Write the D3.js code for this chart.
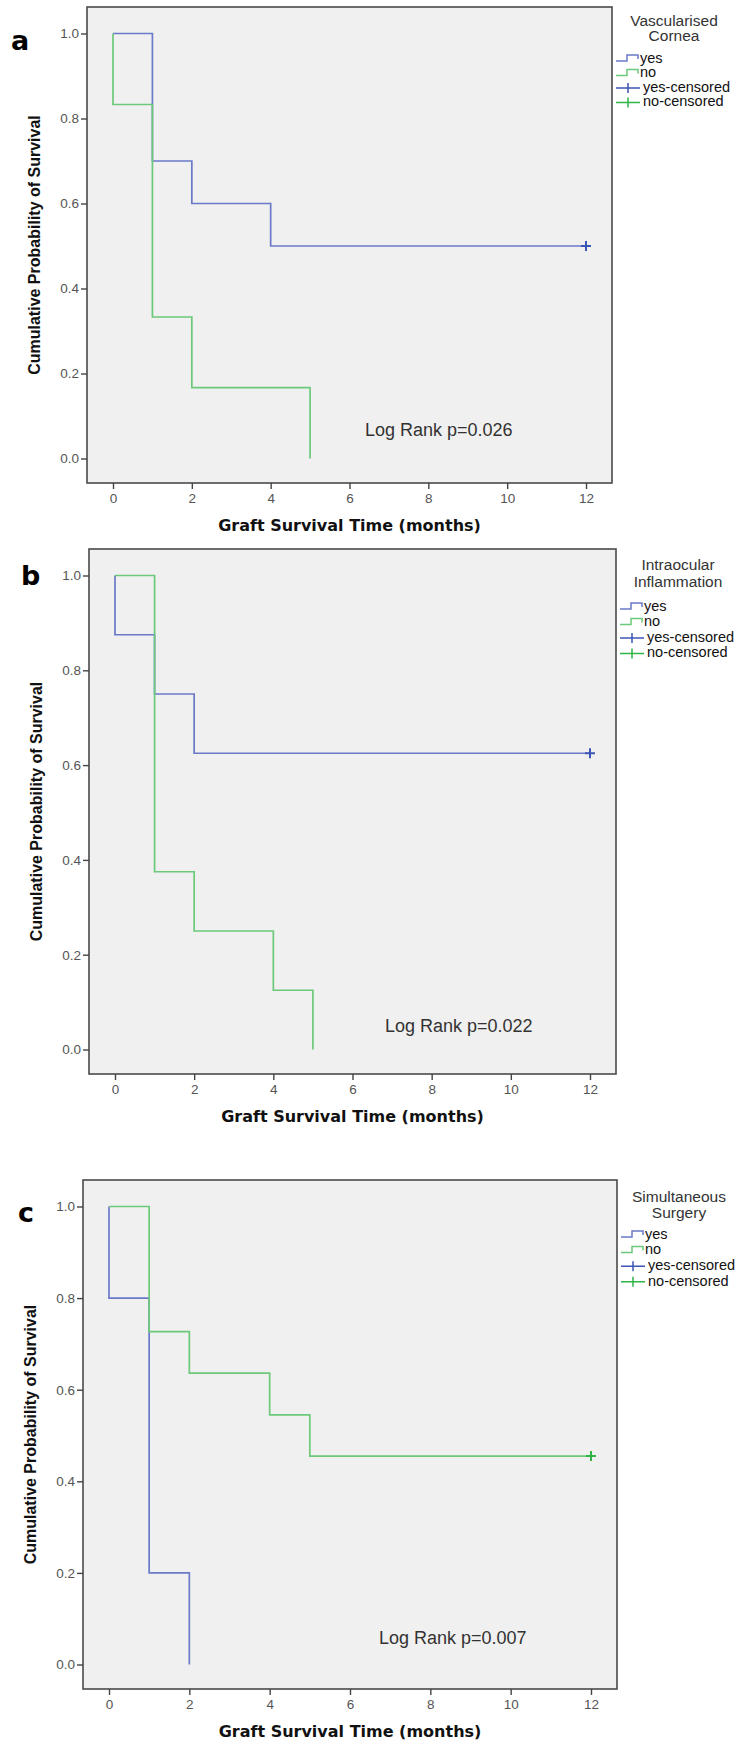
<!DOCTYPE html>
<html>
<head>
<meta charset="utf-8">
<script src="https://cdn.jsdelivr.net/npm/d3@7"></script>
<style>
  body { margin: 0; background: #fff; }
  svg { display: block; }
</style>
</head>
<body>
<svg id="km" width="739" height="1746"></svg>
<script>
// ---- data ----
const panelLabels = ["a", "b", "c"];
const groupTitles = [["Vascularised", "Cornea"], ["Intraocular", "Inflammation"], ["Simultaneous", "Surgery"]];
const pValues = ["0.026", "0.022", "0.007"];
const legendLabels = ["yes", "no", "yes-censored", "no-censored"];
const xTicks = [0, 2, 4, 6, 8, 10, 12];
const yTicks = [0.0, 0.2, 0.4, 0.6, 0.8, 1.0];

// a: vascularised cornea
const aYesTime = [0, 1, 2, 4, 12];
const aYesSurv = [1.0, 0.7, 0.6, 0.5, 0.5];
const aYesCens = [12];
const aNoTime = [0, 0, 1, 2, 5];
const aNoSurv = [1.0, 0.833, 0.333, 0.167, 0.0];
const aNoCens = [];

// b: intraocular inflammation
const bYesTime = [0, 0, 1, 2, 12];
const bYesSurv = [1.0, 0.875, 0.75, 0.625, 0.625];
const bYesCens = [12];
const bNoTime = [0, 1, 2, 4, 5];
const bNoSurv = [1.0, 0.375, 0.25, 0.125, 0.0];
const bNoCens = [];

// c: simultaneous surgery
const cYesTime = [0, 0, 1, 2];
const cYesSurv = [1.0, 0.8, 0.2, 0.0];
const cYesCens = [];
const cNoTime = [0, 1, 2, 4, 5, 12];
const cNoSurv = [1.0, 0.727, 0.636, 0.545, 0.455, 0.455];
const cNoCens = [12];

const series = [
  {yes: [aYesTime, aYesSurv, aYesCens], no: [aNoTime, aNoSurv, aNoCens]},
  {yes: [bYesTime, bYesSurv, bYesCens], no: [bNoTime, bNoSurv, bNoCens]},
  {yes: [cYesTime, cYesSurv, cYesCens], no: [cNoTime, cNoSurv, cNoCens]}
];

// ---- layout ----
const layouts = [
  {left: 87, right: 612, top: 7, bottom: 483, titleY: [22, 37], itemY: 59, itemStep: 14.5, legX: 616, lab: [11, 50], rank: [365, 436]},
  {left: 89, right: 616, top: 549, bottom: 1074, titleY: [566, 583], itemY: 607, itemStep: 15.5, legX: 620, lab: [21, 585], rank: [385, 1032]},
  {left: 83, right: 617, top: 1180, bottom: 1689, titleY: [1198, 1214], itemY: 1235, itemStep: 15.6, legX: 621, lab: [18, 1222], rank: [379, 1644]}
];

const blue = "#6a79c8", green = "#6cc97a";
const blueDark = "#3d55b5", greenDark = "#2fb548";
const sans = "'Liberation Sans', Arial, sans-serif";

const svg = d3.select("#km");

layouts.forEach((L, i) => {
  const g = svg.append("g");

  const x = d3.scaleLinear().domain([0, 12]).range([L.left + 26, L.right - 26]);
  const y = d3.scaleLinear().domain([0, 1]).range([L.bottom - 24.5, L.top + 26.5]);

  g.append("rect")
    .attr("x", L.left).attr("y", L.top)
    .attr("width", L.right - L.left).attr("height", L.bottom - L.top)
    .attr("fill", "#f0f0f0")
    .attr("stroke", "#4a4a4a")
    .attr("stroke-width", 1.6);

  // axes
  const yAxis = g.append("g")
    .attr("transform", `translate(${L.left},0)`)
    .call(d3.axisLeft(y).tickValues(yTicks).tickFormat(d3.format(".1f")).tickSize(6).tickPadding(2));
  const xAxis = g.append("g")
    .attr("transform", `translate(0,${L.bottom})`)
    .call(d3.axisBottom(x).tickValues(xTicks).tickSize(6).tickPadding(4));
  [yAxis, xAxis].forEach(ax => {
    ax.select(".domain").remove();
    ax.selectAll(".tick line").attr("stroke", "#444").attr("stroke-width", 1.4);
    ax.selectAll(".tick text")
      .attr("fill", "#555")
      .style("font-family", sans)
      .style("font-size", "13.5px");
  });

  // step curves
  const line = d3.line()
    .x(d => x(d[0]))
    .y(d => y(d[1]))
    .curve(d3.curveStepAfter);

  [["yes", blue, blueDark], ["no", green, greenDark]].forEach(([key, col, dark]) => {
    const [t, s, cens] = series[i][key];
    const pts = t.map((d, k) => [d, s[k]]);
    g.append("path")
      .attr("d", line(pts))
      .attr("fill", "none")
      .attr("stroke", col)
      .attr("stroke-width", 1.7);
    cens.forEach(ct => {
      const sv = s[t.lastIndexOf(d3.max(t.filter(v => v <= ct)))];
      const cx = x(ct), cy = y(sv);
      g.append("path")
        .attr("d", `M${cx - 5},${cy}H${cx + 5}M${cx},${cy - 5}V${cy + 5}`)
        .attr("stroke", dark)
        .attr("stroke-width", 2);
    });
  });

  // log rank
  g.append("text")
    .attr("x", L.rank[0]).attr("y", L.rank[1])
    .attr("fill", "#333")
    .style("font-family", sans)
    .style("font-size", "18px")
    .text("Log Rank p=" + pValues[i]);

  // axis titles
  g.append("text")
    .attr("transform", `translate(${L.left - 47},${(L.top + L.bottom) / 2}) rotate(-90)`)
    .attr("text-anchor", "middle")
    .attr("fill", "#111")
    .style("font-family", sans)
    .style("font-weight", "bold")
    .style("font-size", "16px")
    .text("Cumulative Probability of Survival");

  g.append("text")
    .attr("x", (L.left + L.right) / 2)
    .attr("y", L.bottom + 48)
    .attr("text-anchor", "middle")
    .attr("fill", "#111")
    .style("font-family", "'DejaVu Sans', sans-serif")
    .style("font-weight", "bold")
    .style("font-size", "16px")
    .text("Graft Survival Time (months)");

  // panel letter
  g.append("text")
    .attr("x", L.lab[0]).attr("y", L.lab[1])
    .attr("fill", "#000")
    .style("font-family", "'DejaVu Sans', sans-serif")
    .style("font-weight", "bold")
    .style("font-size", "27px")
    .text(panelLabels[i]);

  // legend
  const legCx = L.legX + 58;
  groupTitles[i].forEach((tt, k) => {
    g.append("text")
      .attr("x", legCx).attr("y", L.titleY[k])
      .attr("text-anchor", "middle")
      .attr("dominant-baseline", "middle")
      .attr("fill", "#333")
      .style("font-family", sans)
      .style("font-size", "15.5px")
      .text(tt);
  });

  legendLabels.forEach((lab, k) => {
    const yy = L.itemY + k * L.itemStep;
    const x0 = L.legX;
    const col = k % 2 === 0 ? blue : green;
    const sym = k < 2
      ? `M${x0},${yy + 2}H${x0 + 11}V${yy - 4}H${x0 + 22}V${yy}`
      : `M${x0},${yy}H${x0 + 24}M${x0 + 12},${yy - 5}V${yy + 5}`;
    g.append("path")
      .attr("d", sym)
      .attr("fill", "none")
      .attr("stroke", k < 2 ? col : (k === 2 ? blueDark : greenDark))
      .attr("stroke-width", 1.5);
    g.append("text")
      .attr("x", x0 + (k < 2 ? 24 : 27)).attr("y", yy)
      .attr("dominant-baseline", "middle")
      .attr("fill", "#111")
      .style("font-family", sans)
      .style("font-size", "14.5px")
      .text(lab);
  });
});
</script>
</body>
</html>
